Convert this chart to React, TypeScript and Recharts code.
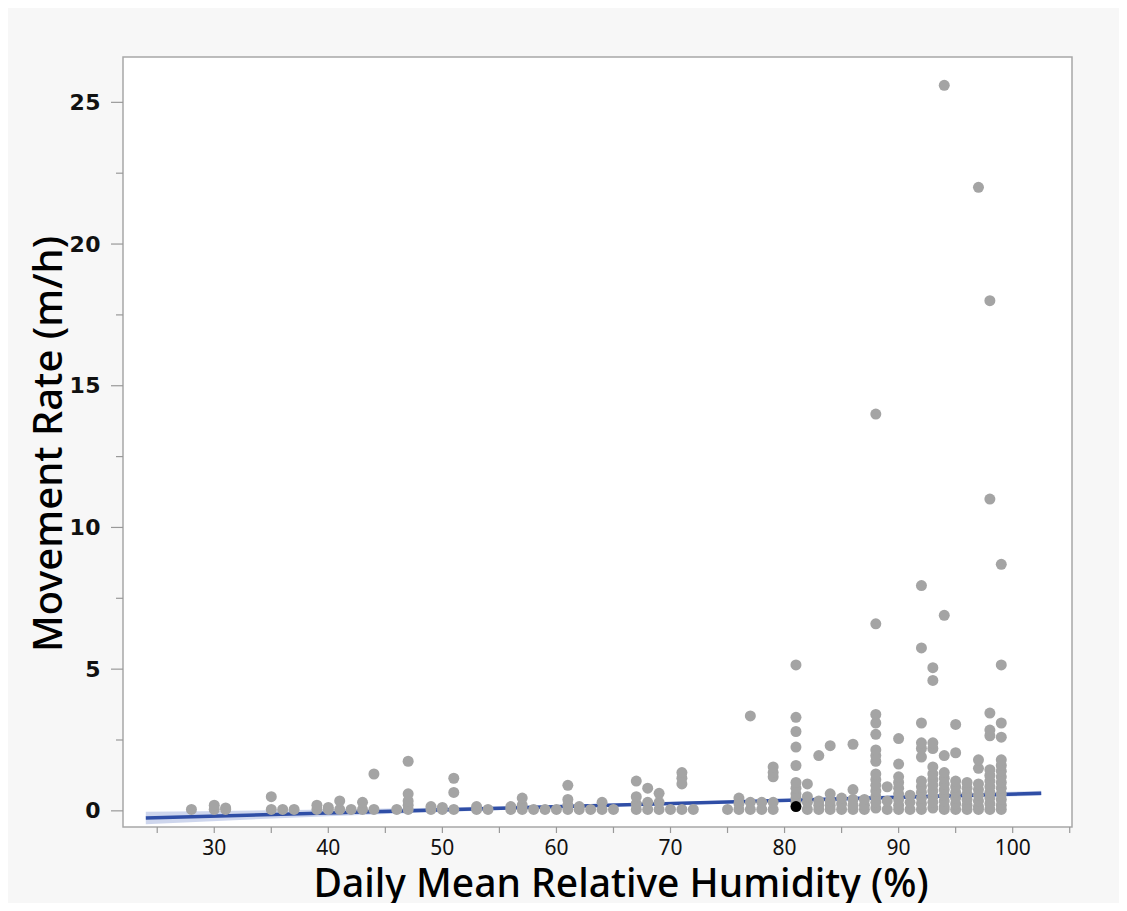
import React from 'react';
import {
  ComposedChart,
  Scatter,
  Line,
  Area,
  XAxis,
  YAxis,
  CartesianGrid,
  ReferenceArea,
} from 'recharts';

// humidity columns (%) and the movement rates observed at each
const humidity = [
  28, 30, 31, 35, 36, 37, 39, 40, 41, 42, 43, 44, 46, 47, 49, 50, 51, 53, 54, 56,
  57, 58, 59, 60, 61, 62, 63, 64, 65, 67, 68, 69, 70, 71, 72, 75, 76, 77, 78, 79,
  81, 82, 83, 84, 85, 86, 87, 88, 89, 90, 91, 92, 93, 94, 95, 96, 97, 98, 99,
];

const rates: number[][] = [
  [0.05], // 28
  [0.05, 0.2], // 30
  [0.05, 0.1], // 31
  [0.05, 0.5], // 35
  [0.05], // 36
  [0.05], // 37
  [0.05, 0.2], // 39
  [0.05, 0.12], // 40
  [0.05, 0.35], // 41
  [0.05], // 42
  [0.05, 0.3], // 43
  [0.05, 1.3], // 44
  [0.05], // 46
  [0.05, 0.2, 0.35, 0.6, 1.75], // 47
  [0.05, 0.15], // 49
  [0.05, 0.12], // 50
  [0.05, 0.65, 1.15], // 51
  [0.05, 0.15], // 53
  [0.05], // 54
  [0.05, 0.15], // 56
  [0.05, 0.2, 0.45], // 57
  [0.05], // 58
  [0.05], // 59
  [0.05], // 60
  [0.05, 0.2, 0.4, 0.9], // 61
  [0.05, 0.15], // 62
  [0.05], // 63
  [0.05, 0.3], // 64
  [0.05], // 65
  [0.05, 0.25, 0.5, 1.05], // 67
  [0.05, 0.3, 0.8], // 68
  [0.05, 0.3, 0.62], // 69
  [0.05], // 70
  [0.05, 0.95, 1.15, 1.35], // 71
  [0.05], // 72
  [0.05], // 75
  [0.05, 0.25, 0.45], // 76
  [0.05, 0.3, 3.35], // 77
  [0.05, 0.3], // 78
  [0.05, 0.3, 1.2, 1.35, 1.55], // 79
  [0.3, 0.45, 0.6, 0.8, 1.0, 1.6, 2.25, 2.8, 3.3, 5.15], // 81
  [0.05, 0.3, 0.5, 0.95], // 82
  [0.05, 0.2, 0.35, 1.95], // 83
  [0.05, 0.2, 0.35, 0.6, 2.3], // 84
  [0.05, 0.25, 0.45], // 85
  [0.05, 0.2, 0.4, 0.75, 2.35], // 86
  [0.05, 0.2, 0.4], // 87
  [0.1, 0.3, 0.5, 0.7, 0.9, 1.1, 1.3, 1.75, 1.95, 2.15, 2.7, 3.1, 3.4, 6.6, 14], // 88
  [0.05, 0.35, 0.85], // 89
  [0.05, 0.2, 0.4, 0.6, 0.8, 1.0, 1.2, 1.65, 2.55], // 90
  [0.05, 0.3, 0.55], // 91
  [0.05, 0.25, 0.45, 0.65, 0.85, 1.05, 1.9, 2.2, 2.4, 3.1, 5.75, 7.95], // 92
  [0.1, 0.3, 0.5, 0.7, 0.9, 1.1, 1.3, 1.55, 2.2, 2.4, 4.6, 5.05], // 93
  [0.05, 0.15, 0.35, 0.55, 0.75, 0.95, 1.15, 1.35, 1.95, 6.9, 25.6], // 94
  [0.05, 0.25, 0.45, 0.65, 0.85, 1.05, 2.05, 3.05], // 95
  [0.05, 0.2, 0.4, 0.6, 0.8, 1.0], // 96
  [0.05, 0.15, 0.35, 0.55, 0.75, 0.95, 1.5, 1.8, 22], // 97
  [0.05, 0.25, 0.45, 0.65, 0.85, 1.05, 1.25, 1.45, 2.65, 2.85, 3.45, 11, 18], // 98
  [0.05, 0.2, 0.4, 0.6, 0.8, 1.0, 1.2, 1.4, 1.6, 1.8, 2.6, 3.1, 5.15, 8.7], // 99
];

// the one highlighted observation
const highlightH = [81];
const highlightV = [0.15];

// fitted line and its confidence band
const fitH = [24, 102.5];
const fitV = [-0.25, 0.62];
const bandH = [24, 40, 60, 80, 102.5];
const bandLow = [-0.47, -0.19, 0.09, 0.32, 0.53];
const bandHigh = [-0.03, 0.05, 0.21, 0.42, 0.71];

const xTicks = [25, 30, 35, 40, 45, 50, 55, 60, 65, 70, 75, 80, 85, 90, 95, 100, 105];
const yTicks = [0, 2.5, 5, 7.5, 10, 12.5, 15, 17.5, 20, 22.5, 25];

const points = humidity.flatMap((h, i) => rates[i].map((v) => ({ h, rate: v })));
const highlight = highlightH.map((h, i) => ({ h, rate: highlightV[i] }));
const fit = fitH.map((h, i) => ({ h, fit: fitV[i] }));
const band = bandH.map((h, i) => ({ h, band: [bandLow[i], bandHigh[i]] }));

const X_MIN = 22;
const X_MAX = 105.2;
const Y_MIN = -0.57;
const Y_MAX = 26.6;

const XTick = (props: any) => {
  const { x, y, payload } = props;
  const major = payload.value % 10 === 0;
  return (
    <g>
      <line x1={x} x2={x} y1={y} y2={y + 6} stroke="#999" strokeWidth={1.2} />
      {major && (
        <text x={x} y={y + 10} textAnchor="middle" fontSize={21} fill="#111"
          dominantBaseline="hanging" fontFamily="'Noto Sans', sans-serif">
          {payload.value}
        </text>
      )}
    </g>
  );
};

const YTick = (props: any) => {
  const { x, y, payload } = props;
  const major = payload.value % 5 === 0;
  return (
    <g>
      <line x1={x - (major ? 12 : 7)} x2={x} y1={y} y2={y} stroke="#999" strokeWidth={1.2} />
      {major && (
        <text x={x - 22} y={y} textAnchor="end" dominantBaseline="central" fontSize={22}
          fontWeight="bold" fill="#111" fontFamily="'DejaVu Sans', sans-serif"
          letterSpacing={0.5}>
          {payload.value}
        </text>
      )}
    </g>
  );
};

const Dot = (props: any) => (
  <circle cx={props.cx} cy={props.cy} r={5.5} fill="#a4a4a4" />
);
const BlackDot = (props: any) => (
  <circle cx={props.cx} cy={props.cy} r={5.5} fill="#000" />
);

export default function App() {
  return (
    <div style={{ margin: -8, width: 1127, height: 911, background: '#f7f7f7', position: 'relative' }}>
      <ComposedChart width={1127} height={911} margin={{ top: 57, right: 55, left: 0, bottom: 0 }}>
        <CartesianGrid horizontal={false} vertical={false} fill="#ffffff" />
        <XAxis
          type="number"
          dataKey="h"
          domain={[X_MIN, X_MAX]}
          ticks={xTicks}
          allowDataOverflow
          interval={0}
          height={84}
          axisLine={false}
          tickLine={false}
          tickSize={0}
          tickMargin={0}
          tick={XTick}
        />
        <YAxis
          type="number"
          domain={[Y_MIN, Y_MAX]}
          ticks={yTicks}
          allowDataOverflow
          interval={0}
          width={123}
          axisLine={false}
          tickLine={false}
          tickSize={0}
          tickMargin={0}
          tick={YTick}
        />
        <Area
          data={band}
          dataKey="band"
          type="monotone"
          stroke="none"
          fill="#b9c4e6"
          fillOpacity={0.7}
          isAnimationActive={false}
        />
        <Scatter data={points} dataKey="rate" shape={Dot} isAnimationActive={false} />
        <Scatter data={highlight} dataKey="rate" shape={BlackDot} isAnimationActive={false} />
        <Line
          data={fit}
          dataKey="fit"
          type="linear"
          stroke="#2f4ea6"
          strokeWidth={3.5}
          dot={false}
          isAnimationActive={false}
        />
        <ReferenceArea
          x1={X_MIN}
          x2={X_MAX}
          y1={Y_MIN}
          y2={Y_MAX}
          fill="none"
          stroke="#a8a8a8"
          strokeWidth={1.5}
          ifOverflow="visible"
        />
      </ComposedChart>
      <svg
        width={1127}
        height={911}
        style={{ position: 'absolute', left: 0, top: 0, pointerEvents: 'none' }}
      >
        <text x={621} y={897} textAnchor="middle" fontSize={39} fontWeight={500} fill="#000"
          fontFamily="'Noto Sans', sans-serif">
          Daily Mean Relative Humidity (%)
        </text>
        <text x={0} y={0} transform="translate(62,444) rotate(-90)" textAnchor="middle"
          fontSize={40} fontWeight={500} fill="#000" fontFamily="'Noto Sans', sans-serif">
          Movement Rate (m/h)
        </text>
      </svg>
    </div>
  );
}
